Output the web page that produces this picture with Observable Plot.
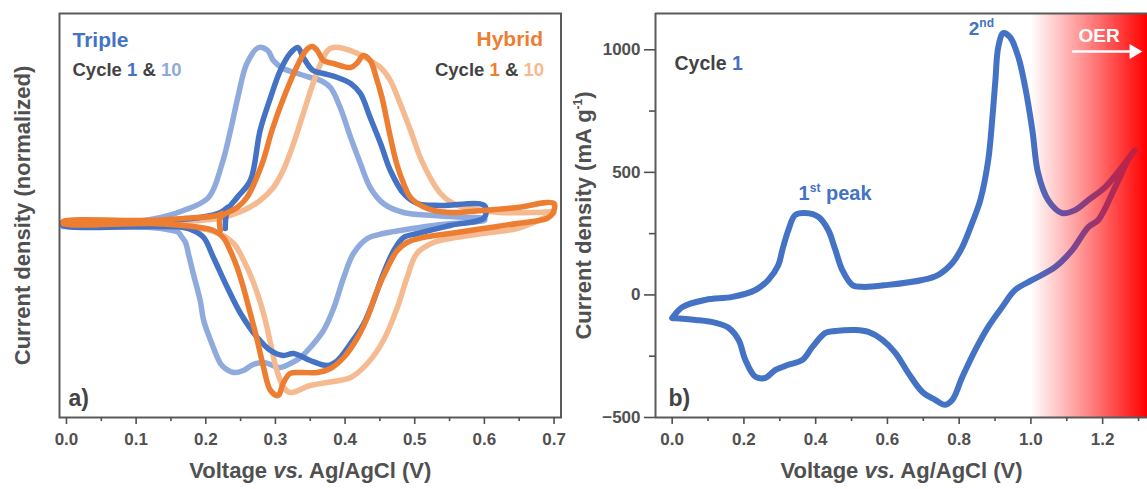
<!DOCTYPE html>
<html><head><meta charset="utf-8">
<script src="https://cdn.jsdelivr.net/npm/d3@7"></script>
<script src="https://cdn.jsdelivr.net/npm/@observablehq/plot@0.6"></script>
<style>
body{margin:0;background:#fff;}
#wrap{display:flex;width:1147px;height:489px;overflow:hidden;}
</style></head><body><div id="wrap"></div>
<script>
// ---------- Panel a data: [voltage V, normalized current] ----------
const tripleCycle1 = [[0.228,-0.05],[0.231,0.13],[0.245,0.26],[0.264,0.43],[0.278,0.93],[0.293,1.26],[0.307,1.53],[0.321,1.70],[0.332,1.76],[0.340,1.66],[0.354,1.53],[0.369,1.50],[0.389,1.46],[0.408,1.40],[0.422,1.30],[0.436,1.06],[0.451,0.80],[0.465,0.53],[0.484,0.30],[0.504,0.20],[0.537,0.18],[0.600,0.18],
[0.600,0.06],[0.551,-0.02],[0.504,-0.10],[0.484,-0.14],[0.470,-0.27],[0.455,-0.50],[0.441,-0.77],[0.427,-1.00],[0.408,-1.20],[0.389,-1.37],[0.375,-1.42],[0.350,-1.37],[0.326,-1.30],[0.311,-1.32],[0.293,-1.27],[0.274,-1.14],[0.250,-0.90],[0.231,-0.64],[0.211,-0.34],[0.197,-0.14],[0.182,-0.07],[0.168,-0.04],[0.121,-0.03],[-0.005,-0.02],
[-0.005,0.00],[0.121,0.02],[0.192,0.06],[0.221,0.11],[0.231,0.16]];
const tripleCycle10 = [[-0.005,-0.01],[0.078,0.01],[0.121,0.04],[0.168,0.13],[0.204,0.26],[0.2235,0.60],[0.2355,0.93],[0.246,1.26],[0.259,1.60],[0.276,1.76],[0.289,1.73],[0.297,1.63],[0.311,1.55],[0.332,1.50],[0.350,1.46],[0.365,1.43],[0.379,1.36],[0.393,1.16],[0.408,0.86],[0.422,0.60],[0.436,0.36],[0.455,0.20],[0.484,0.11],[0.527,0.08],[0.575,0.06],[0.600,0.05],
[0.600,0.03],[0.575,0.01],[0.527,-0.02],[0.479,-0.07],[0.455,-0.10],[0.432,-0.15],[0.412,-0.30],[0.398,-0.54],[0.384,-0.84],[0.369,-1.07],[0.350,-1.24],[0.336,-1.34],[0.3215,-1.40],[0.307,-1.44],[0.283,-1.39],[0.268,-1.41],[0.254,-1.47],[0.240,-1.49],[0.228,-1.45],[0.221,-1.40],[0.207,-1.17],[0.197,-0.97],[0.192,-0.77],[0.182,-0.50],[0.175,-0.30],[0.171,-0.19],[0.165,-0.13],[0.161,-0.09],[0.145,-0.06],[0.121,-0.04],[-0.005,-0.03]];
const hybridCycle1 = [[0.221,-0.07],[0.221,0.06],[0.245,0.16],[0.259,0.26],[0.281,0.60],[0.295,0.93],[0.312,1.26],[0.333,1.60],[0.345,1.74],[0.353,1.77],[0.360,1.73],[0.369,1.63],[0.383,1.60],[0.408,1.56],[0.418,1.61],[0.426,1.68],[0.436,1.63],[0.446,1.43],[0.453,1.26],[0.463,0.93],[0.474,0.60],[0.484,0.40],[0.494,0.26],[0.518,0.15],[0.551,0.11],[0.598,0.13],[0.647,0.16],[0.700,0.20],
[0.698,0.10],[0.690,0.05],[0.647,0.00],[0.598,-0.05],[0.551,-0.10],[0.512,-0.14],[0.489,-0.19],[0.475,-0.27],[0.461,-0.44],[0.446,-0.67],[0.432,-0.94],[0.418,-1.14],[0.398,-1.34],[0.379,-1.45],[0.360,-1.49],[0.336,-1.49],[0.321,-1.50],[0.311,-1.60],[0.304,-1.72],[0.293,-1.67],[0.283,-1.44],[0.274,-1.17],[0.264,-0.90],[0.254,-0.64],[0.245,-0.44],[0.235,-0.27],[0.225,-0.14],[0.211,-0.07],[0.192,-0.04],[0.168,-0.02],[0.121,0.00],[-0.005,0.00],
[-0.005,0.02],[0.121,0.03],[0.168,0.05],[0.217,0.08],[0.223,0.10]];
const hybridCycle10 = [[-0.005,-0.01],[0.121,0.01],[0.217,0.05],[0.254,0.13],[0.278,0.23],[0.297,0.36],[0.311,0.53],[0.326,0.80],[0.340,1.10],[0.354,1.40],[0.365,1.60],[0.375,1.73],[0.383,1.76],[0.398,1.75],[0.418,1.70],[0.436,1.63],[0.451,1.56],[0.465,1.43],[0.479,1.20],[0.494,0.93],[0.508,0.66],[0.522,0.46],[0.537,0.30],[0.555,0.20],[0.580,0.15],[0.623,0.11],[0.670,0.11],[0.700,0.11],
[0.684,0.05],[0.647,-0.05],[0.598,-0.10],[0.551,-0.15],[0.527,-0.19],[0.503,-0.30],[0.489,-0.54],[0.475,-0.84],[0.455,-1.17],[0.432,-1.40],[0.408,-1.54],[0.374,-1.59],[0.350,-1.62],[0.321,-1.69],[0.312,-1.64],[0.302,-1.47],[0.293,-1.20],[0.283,-0.90],[0.269,-0.60],[0.2545,-0.37],[0.240,-0.20],[0.216,-0.09],[0.192,-0.05],[0.121,-0.02],[-0.005,-0.01]];

// ---------- Panel b data: [voltage V, current density mA/g] ----------
const cycle1 = [[0.000,-94],[0.029,-49],[0.093,-20],[0.168,-8],[0.232,20],[0.268,61],[0.296,122],[0.307,183],[0.324,265],[0.343,326],[0.371,334],[0.408,318],[0.435,265],[0.455,183],[0.474,102],[0.502,41],[0.530,33],[0.602,41],[0.697,61],[0.742,82],[0.781,130],[0.809,196],[0.836,293],[0.859,387],[0.881,550],[0.892,713],[0.901,876],[0.909,1011],[0.923,1068],[0.942,1051],[0.965,970],[0.984,848],[1.004,672],[1.020,497],[1.048,387],[1.087,334],[1.123,346],[1.160,387],[1.207,440],[1.254,522],[1.290,591],
[1.271,550],[1.235,440],[1.188,306],[1.160,277],[1.115,183],[1.068,114],[1.004,61],[0.956,20],[0.920,-49],[0.881,-130],[0.845,-224],[0.809,-334],[0.781,-428],[0.761,-448],[0.733,-428],[0.697,-395],[0.658,-318],[0.622,-236],[0.586,-183],[0.547,-151],[0.511,-143],[0.455,-147],[0.427,-155],[0.391,-212],[0.363,-265],[0.324,-285],[0.288,-306],[0.260,-338],[0.232,-334],[0.204,-265],[0.185,-183],[0.157,-134],[0.121,-114],[0.065,-102],[0.001,-94]];

// ---------- ticks, domains, annotations ----------
const xTicksA = [0,0.1,0.2,0.3,0.4,0.5,0.6,0.7];
const xMinorA = [0.05,0.15,0.25,0.35,0.45,0.55,0.65];
const xTicksB = [0,0.2,0.4,0.6,0.8,1.0,1.2];
const xMinorB = [0.1,0.3,0.5,0.7,0.9,1.1,1.3];
const yTicksB = [-500,0,500,1000];
const yMinorB = [-250,250,750];
const xDomainA = [-0.01, 0.71], yDomainA = [-1.94, 2.10];
const xDomainB = [-0.0465, 1.325], yDomainB = [-500, 1148];
const oerRegion = [1.0, 1.325];
const oerArrow = {x1: 1.115, x2: 1.287, y: 993};
const oerLabel = {x: 1.19, y: 1055};
const secondPeakLabel = {x: 0.862, y: 1087};
const firstPeakLabel = {x: 0.454, y: 414};

const FONT = "'Liberation Sans', Arial, Helvetica, sans-serif";
const GRAY = "#505050", TXT = "#434343";
const BLUE = "#4472C4", BLUE_LIGHT = "#8FAADC", ORANGE = "#ED7D31", ORANGE_LIGHT = "#F5BA90";
const NS = "http://www.w3.org/2000/svg";

const xTitle = "Voltage vs. Ag/AgCl (V)";
const xTitleParts = [{t:"Voltage "},{t:"vs.", italic:true},{t:" Ag/AgCl (V)"}];

const lineOpts = (color, w = 5.5) => ({x: d => d[0], y: d => d[1], stroke: color, strokeWidth: w,
  strokeLinejoin: "round", strokeLinecap: "round", curve: "catmull-rom"});
const bold = (size, fill) => ({fontSize: size, fontWeight: "bold", fill, fontFamily: FONT});
const styleObj = {fontFamily: FONT, color: GRAY, background: "transparent", overflow: "visible"};

function richify(svg, list) {
  for (const item of list) {
    const el = [...svg.querySelectorAll("text")].find(t => t.textContent === item.plain && !t.dataset.rich);
    if (!el) continue;
    el.dataset.rich = "1";
    el.textContent = "";
    let shift = 0;
    for (const p of item.parts) {
      const ts = document.createElementNS(NS, "tspan");
      ts.textContent = p.t;
      if (p.fill) ts.setAttribute("fill", p.fill);
      if (p.italic) ts.setAttribute("font-style", "italic");
      if (p.sup) {
        ts.setAttribute("font-size", p.sup);
        ts.setAttribute("dy", -p.raise - shift);
        shift = -p.raise;
      } else if (shift) {
        ts.setAttribute("dy", -shift);
        shift = 0;
      }
      el.appendChild(ts);
    }
  }
}

// ---------- Panel a ----------
const plotA = Plot.plot({
  width: 575, height: 489,
  marginLeft: 59, marginRight: 14.5, marginTop: 13, marginBottom: 72,
  style: styleObj,
  x: {domain: xDomainA},
  y: {domain: yDomainA, axis: null},
  marks: [
    Plot.line(tripleCycle10, lineOpts(BLUE_LIGHT)),
    Plot.line(hybridCycle10, lineOpts(ORANGE_LIGHT)),
    Plot.line(tripleCycle1, lineOpts(BLUE)),
    Plot.line(hybridCycle1, lineOpts(ORANGE)),
    Plot.frame({stroke: "#5a5a5a", strokeWidth: 2}),
    Plot.axisX({ticks: xTicksA, tickSize: 7, tickPadding: 8, tickFormat: d3.format(".1f"), label: null,
      fontSize: 17, fontWeight: "bold", strokeWidth: 1.6}),
    Plot.axisX({ticks: xMinorA, tickSize: 4, tickFormat: () => "", label: null, strokeWidth: 1.6}),
    Plot.text(["Triple"], {frameAnchor: "top-left", dx: 13, dy: 27, lineAnchor: "middle", ...bold(21, BLUE)}),
    Plot.text(["Cycle 1 & 10"], {frameAnchor: "top-left", dx: 13, dy: 57, lineAnchor: "middle", ...bold(18.5, TXT)}),
    Plot.text(["Hybrid"], {frameAnchor: "top-right", dx: -18, dy: 26, lineAnchor: "middle", ...bold(21, ORANGE)}),
    Plot.text(["Cycle 1 & 10"], {frameAnchor: "top-right", dx: -17, dy: 57, lineAnchor: "middle", ...bold(18.5, TXT)}),
    Plot.text(["a)"], {frameAnchor: "bottom-left", dx: 9, dy: -19, lineAnchor: "middle", ...bold(23, TXT)}),
    Plot.text([xTitle], {frameAnchor: "bottom", dy: 53, lineAnchor: "middle", textAnchor: "middle", ...bold(22, GRAY)}),
    Plot.text(["Current density (normalized)"], {frameAnchor: "left", dx: -37, rotate: -90, lineAnchor: "middle", textAnchor: "middle", ...bold(22, GRAY)})
  ]
});
richify(plotA, [
  {plain: "Cycle 1 & 10", parts: [{t:"Cycle ", fill: TXT},{t:"1", fill: BLUE},{t:" & ", fill: TXT},{t:"10", fill: BLUE_LIGHT}]},
  {plain: "Cycle 1 & 10", parts: [{t:"Cycle ", fill: TXT},{t:"1", fill: ORANGE},{t:" & ", fill: TXT},{t:"10", fill: ORANGE_LIGHT}]},
  {plain: xTitle, parts: xTitleParts}
]);

// ---------- Panel b ----------
function gradientDefs(index, scales) {
  const defs = document.createElementNS(NS, "defs");
  const mk = (id, attrs, stops) => {
    const g = document.createElementNS(NS, "linearGradient");
    g.setAttribute("id", id);
    for (const [k, v] of Object.entries(attrs)) g.setAttribute(k, v);
    for (const [o, c] of stops) {
      const s = document.createElementNS(NS, "stop");
      s.setAttribute("offset", o); s.setAttribute("stop-color", c);
      g.appendChild(s);
    }
    defs.appendChild(g);
  };
  mk("oerGrad", {x1: 0, x2: 1, y1: 0, y2: 0}, [[0, "#ffffff"], [0.5, "#ff8585"], [1, "#ff0000"]]);
  mk("cycleGrad", {gradientUnits: "userSpaceOnUse", x1: scales.x(oerRegion[0]), x2: scales.x(1.3), y1: 0, y2: 0},
     [[0, BLUE], [0.3, "#6b4e9e"], [0.65, "#a23066"], [1, "#c81e3a"]]);
  return defs;
}

const plotB = Plot.plot({
  width: 572, height: 489,
  marginLeft: 80, marginRight: 0, marginTop: 13, marginBottom: 72,
  style: styleObj,
  x: {domain: xDomainB},
  y: {domain: yDomainB},
  marks: [
    gradientDefs,
    Plot.rect([oerRegion], {x1: d => d[0], x2: d => d[1], fill: "url(#oerGrad)"}),
    Plot.line(cycle1, lineOpts("url(#cycleGrad)", 6)),
    Plot.ruleX([xDomainB[0]], {stroke: "#5a5a5a", strokeWidth: 2}),
    Plot.ruleY([yDomainB[0], yDomainB[1]], {stroke: "#5a5a5a", strokeWidth: 2}),
    Plot.axisX({ticks: xTicksB, tickSize: 7, tickPadding: 8, tickFormat: d3.format(".1f"), label: null,
      fontSize: 17, fontWeight: "bold", strokeWidth: 1.6}),
    Plot.axisX({ticks: xMinorB, tickSize: 4, tickFormat: () => "", label: null, strokeWidth: 1.6}),
    Plot.axisY({ticks: yTicksB, tickSize: 11, tickPadding: 4, tickFormat: d3.format("d"), label: null, fontSize: 17, fontWeight: "bold", strokeWidth: 1.6}),
    Plot.axisY({ticks: yMinorB, tickSize: 6, tickFormat: () => "", label: null, strokeWidth: 1.6}),
    Plot.text(["Cycle 1"], {frameAnchor: "top-left", dx: 19, dy: 50, lineAnchor: "middle", ...bold(19.5, TXT)}),
    Plot.text(["2nd"], {x: secondPeakLabel.x, y: secondPeakLabel.y, lineAnchor: "middle", textAnchor: "middle", ...bold(19, BLUE)}),
    Plot.text(["1st peak"], {x: firstPeakLabel.x, y: firstPeakLabel.y, lineAnchor: "middle", textAnchor: "middle", ...bold(20, BLUE)}),
    Plot.text(["OER"], {x: oerLabel.x, y: oerLabel.y, lineAnchor: "middle", textAnchor: "middle", ...bold(19, "#ffffff")}),
    Plot.link([oerArrow], {x1: d => d.x1, x2: d => d.x2, y1: d => d.y, y2: d => d.y, stroke: "#ffffff", strokeWidth: 2.5}),
    Plot.dot([oerArrow], {x: d => d.x2, y: d => d.y, symbol: "triangle", r: 5.5, fill: "#ffffff", rotate: 90}),
    Plot.text(["b)"], {frameAnchor: "bottom-left", dx: 13, dy: -19, lineAnchor: "middle", ...bold(23, TXT)}),
    Plot.text([xTitle], {frameAnchor: "bottom", dy: 53, lineAnchor: "middle", textAnchor: "middle", ...bold(22, GRAY)}),
    Plot.text(["Current density (mA g-1)"], {frameAnchor: "left", dx: -72, rotate: -90, lineAnchor: "middle", textAnchor: "middle", ...bold(22, GRAY)})
  ]
});
richify(plotB, [
  {plain: "Cycle 1", parts: [{t:"Cycle ", fill: TXT},{t:"1", fill: BLUE}]},
  {plain: "2nd", parts: [{t:"2"},{t:"nd", sup: 12, raise: 8}]},
  {plain: "1st peak", parts: [{t:"1"},{t:"st", sup: 12, raise: 8},{t:" peak"}]},
  {plain: xTitle, parts: xTitleParts},
  {plain: "Current density (mA g-1)", parts: [{t:"Current density (mA g"},{t:"-1", sup: 12, raise: 9},{t:")"}]}
]);

const wrap = document.getElementById("wrap");
wrap.appendChild(plotA);
wrap.appendChild(plotB);
</script>
</body></html>
